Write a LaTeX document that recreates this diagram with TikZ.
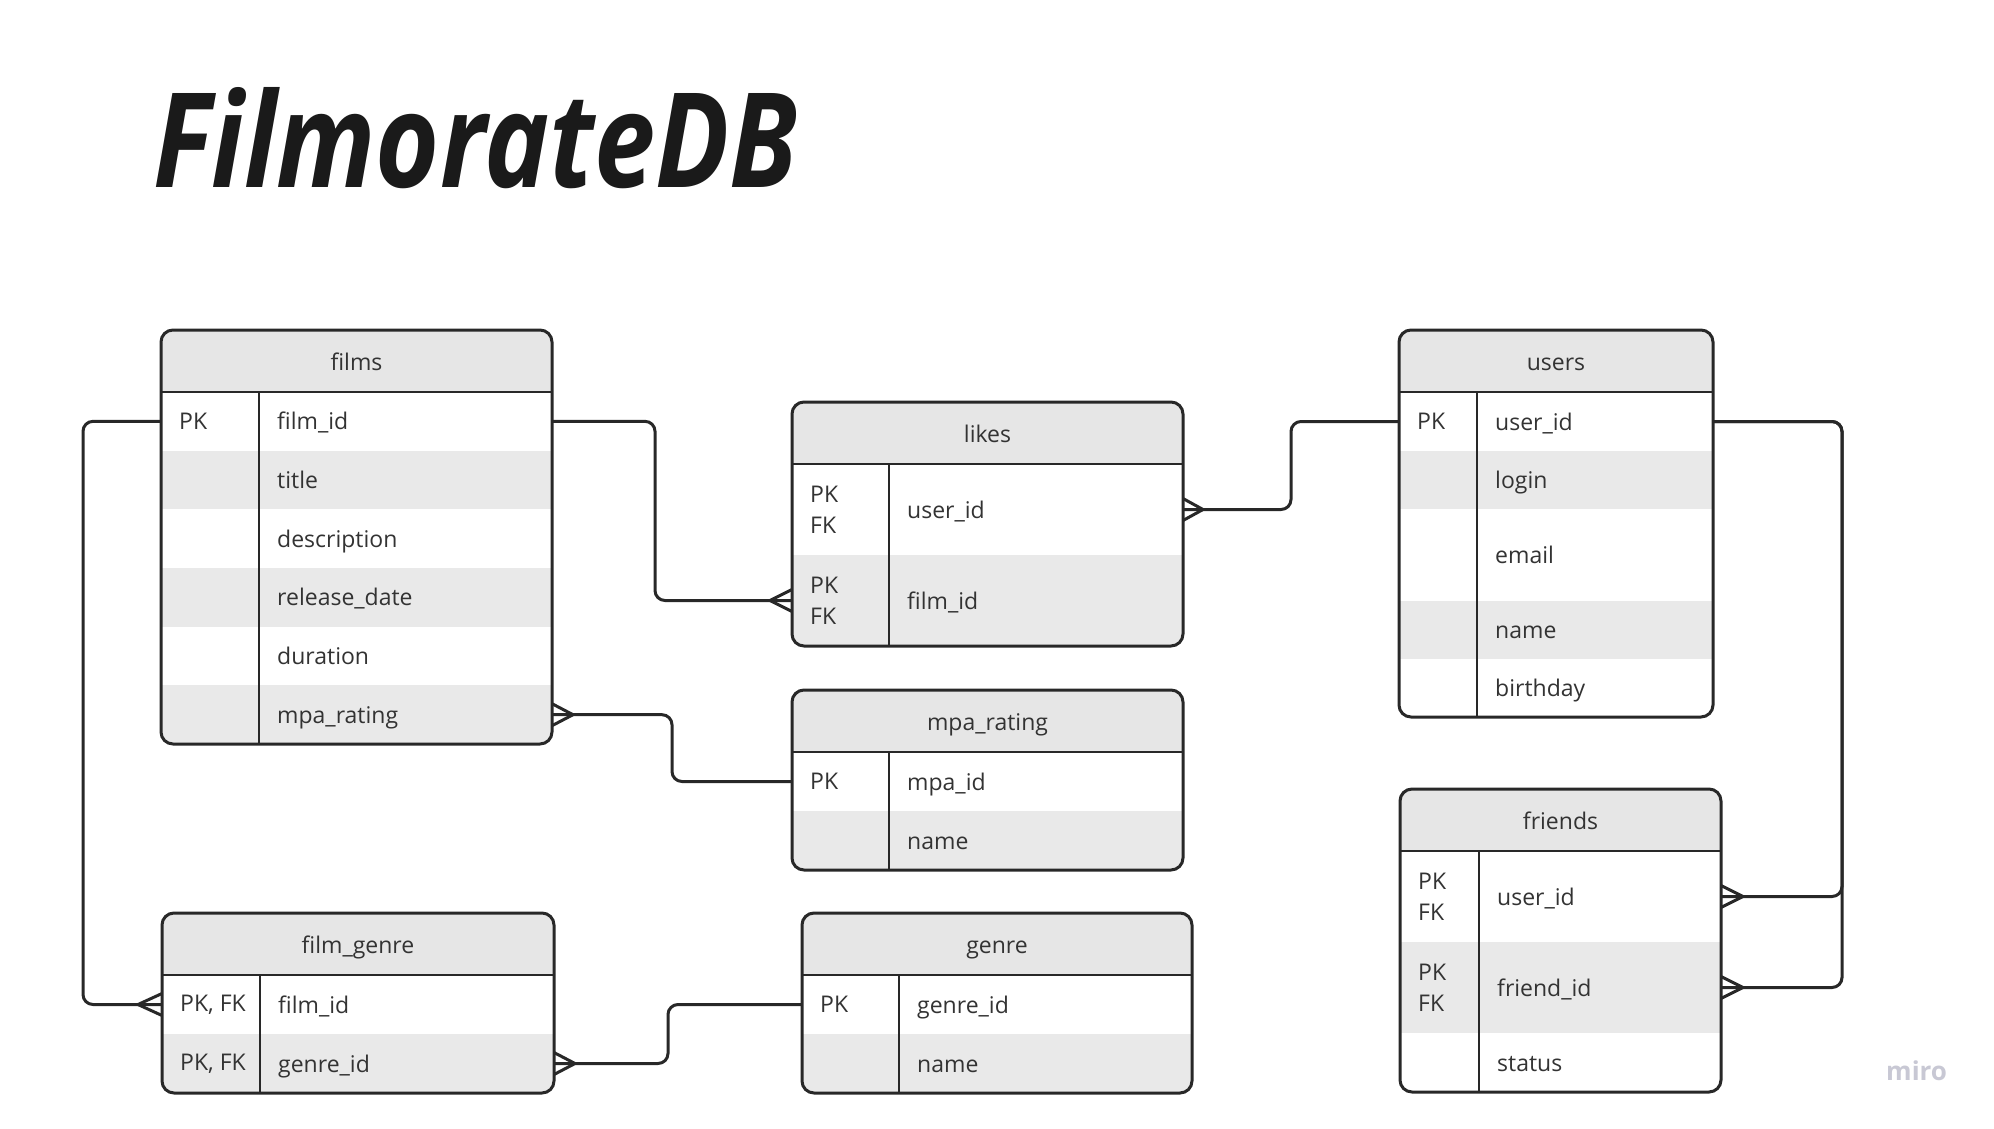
\documentclass[tikz,border=0pt]{standalone}
\usepackage{fontspec}
\usepackage{graphicx}
\setmainfont{Open Sans}
\newfontfamily\titlefont{Open Sans}
\usetikzlibrary{calc}
\definecolor{lc}{RGB}{40,40,40}
\definecolor{tc}{RGB}{51,51,51}
\definecolor{hdrgray}{RGB}{230,230,230}
\definecolor{rowgray}{RGB}{233,233,233}
\definecolor{mirocol}{RGB}{200,200,212}
\definecolor{titlecol}{RGB}{26,26,26}

\tikzset{
 hdr/.style={rectangle, inner sep=0pt, outer sep=0pt, fill=hdrgray, text=tc, font=\fontsize{23}{28}\selectfont, anchor=north west, minimum height=62pt, text height=18pt, text depth=0pt},
 rowbox/.style={rectangle, inner sep=0pt, outer sep=0pt, anchor=north west},
 keytxt/.style={inner sep=0pt, anchor=west, align=left, text=tc, font=\fontsize{23}{31}\selectfont},
 fldtxt/.style={inner sep=0pt, anchor=base west, text=tc, font=\fontsize{23}{28}\selectfont},
 border/.style={draw=lc, line width=3pt, rounded corners=12pt},
 divline/.style={draw=lc, line width=2.5pt},
 conn/.style={draw=lc, line width=3pt, rounded corners=10pt},
 crowline/.style={draw=lc, line width=3pt, line join=round},
}

\newcommand\ertable[8]{%
 \begin{scope}
 \clip[rounded corners=12pt] (#2,#3) rectangle ++(#4,#5);
 \node[hdr, minimum width=#4pt] (#1) at (#2,#3) {#7};
 \pgfmathsetmacro\ycur{#3+62}
 \foreach \rh/\rk/\rf/\rc [count=\ri] in {#8} {
   \node[rowbox, fill=\rc, minimum width=#4pt, minimum height=\rh pt] (#1-\ri) at (#2,\ycur) {};
   \node[keytxt] (#1-k\ri) at ($(#1-\ri.west)+(18,0)$) {\rk};
   \node[fldtxt] (#1-f\ri) at ($(#1-\ri.west)+(#6+18,8.5)$) {\rf};
   \pgfmathsetmacro\ynew{\ycur+\rh}
   \global\let\ycur\ynew
 }
 \end{scope}
 \draw[divline] (#2+#6,#3+62) -- (#2+#6,#3+#5);
 \draw[divline] (#2,#3+62) -- (#2+#4,#3+62);
 \draw[border] (#2,#3) rectangle ++(#4,#5);
}
\newcommand\crow[2]{\draw[crowline] ($(#1)+(0,-11)$) -- ($(#1)+(#2,0)$) -- ($(#1)+(0,11)$);}

\begin{document}
\begin{tikzpicture}[x=1pt,y=-1pt]
\useasboundingbox (0,0) rectangle (1994,1128);
\fill[white] (0,0) rectangle (1994,1128);

\node[anchor=base west, inner sep=0pt, text=titlecol] (title) at (153,187)
  {\resizebox{644pt}{100pt}{\titlefont\bfseries\itshape FilmorateDB}};

\ertable{films}{161}{330}{391}{414}{98}{films}{58.67/PK/film\_id/white, 58.67//title/rowgray, 58.67//description/white, 58.67//release\_date/rowgray, 58.67//duration/white, 58.67//mpa\_rating/rowgray}
\ertable{likes}{792}{402}{391}{244}{97}{likes}{91/PK\\FK/user\_id/white, 91/PK\\FK/film\_id/rowgray}
\ertable{mpa}{792}{690}{391}{180}{97}{mpa\_rating}{59/PK/mpa\_id/white, 59//name/rowgray}
\ertable{users}{1399}{330}{314}{387}{78}{users}{59/PK/user\_id/white, 58//login/rowgray, 92//email/white, 58//name/rowgray, 58//birthday/white}
\ertable{friends}{1400}{789}{321}{303}{79}{friends}{91/PK\\FK/user\_id/white, 91/PK\\FK/friend\_id/rowgray, 59//status/white}
\ertable{fg}{162}{913}{392}{180}{98}{film\_genre}{59/{PK, FK}/film\_id/white, 59/{PK, FK}/genre\_id/rowgray}
\ertable{genre}{802}{913}{390}{180}{97}{genre}{59/PK/genre\_id/white, 59//name/rowgray}

% connectors
\draw[conn] (films-1.east) -- ++(103,0) |- (likes-2.west);
\crow{likes-2.west}{-22}
\draw[conn] (films-6.east) -- ++(120,0) |- (mpa-1.west);
\crow{films-6.east}{21}
\draw[conn] (likes-1.east) -- ++(108,0) |- (users-1.west);
\crow{likes-1.east}{20}
\draw[conn] (users-1.east) -- ++(129,0) |- (friends-1.east);
\draw[conn] (users-1.east) -- ++(129,0) |- (friends-2.east);
\crow{friends-1.east}{22}
\crow{friends-2.east}{22}
\draw[conn] (films-1.west) -- ++(-78,0) |- (fg-1.west);
\crow{fg-1.west}{-24}
\draw[conn] (fg-2.east) -- ++(114,0) |- (genre-1.west);
\crow{fg-2.east}{21}

\node[anchor=base west, inner sep=0pt, text=mirocol, font=\fontsize{26}{30}\selectfont\bfseries] (miro) at (1886,1080) {miro};
\end{tikzpicture}
\end{document}
